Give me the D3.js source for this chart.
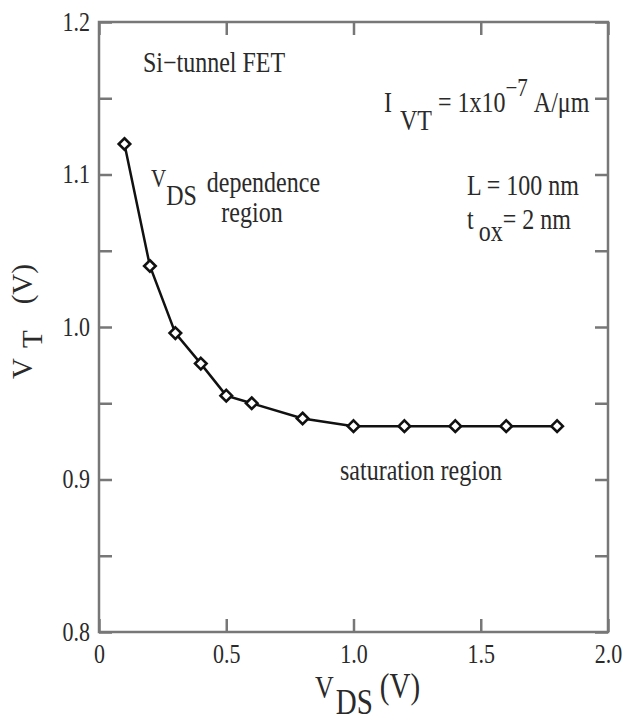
<!DOCTYPE html>
<html>
<head>
<meta charset="utf-8">
<script src="https://cdn.jsdelivr.net/npm/d3@7"></script>
<style>
    body { margin: 0; background: #fff; }
</style>
</head>
<body>
<div class="chart-container"></div>
<script>
const vds = [0.1, 0.2, 0.3, 0.4, 0.5, 0.6, 0.8, 1.0, 1.2, 1.4, 1.6, 1.8];
const vt = [1.12, 1.04, 0.996, 0.976, 0.955, 0.95, 0.94, 0.935, 0.935, 0.935, 0.935, 0.935];
const xTicks = [0, 0.5, 1.0, 1.5, 2.0];
const yMajorTicks = [0.8, 0.9, 1.0, 1.1, 1.2];
const yMinorTicks = [0.85, 0.95, 1.05, 1.15];

const width = 623, height = 722;
const margin = { top: 22, right: 15, bottom: 90, left: 99 };
const w = width - margin.left - margin.right;
const h = height - margin.top - margin.bottom;
const frameColor = "#777";
const serif = "Liberation Serif, Times New Roman, serif";
const textColor = "#2a2a2a";
const stretch = 1.2; // the original figure's lettering is taller than it is wide

const svg = d3.select(".chart-container")
    .append("svg")
    .attr("width", width)
    .attr("height", height)
    .attr("font-family", serif);

const g = svg.append("g")
    .attr("transform", `translate(${margin.left}, ${margin.top})`);

const xScale = d3.scaleLinear().domain([0, 2]).range([0, w]);
const yScale = d3.scaleLinear().domain([0.8, 1.2]).range([h, 0]);

const fmt = d => d === 0 ? "0" : d.toFixed(1);

// axes, ticks pointing inward
const xAxis = d3.axisBottom(xScale).tickValues(xTicks).tickSize(-13).tickSizeOuter(0).tickPadding(10).tickFormat(fmt);
const xTop = d3.axisTop(xScale).tickValues(xTicks).tickSize(-13).tickSizeOuter(0).tickFormat("");
const yAxis = d3.axisLeft(yScale).tickValues(yMajorTicks.concat(yMinorTicks)).tickSize(-13).tickSizeOuter(0).tickPadding(9)
    .tickFormat(d => yMajorTicks.includes(d) ? d.toFixed(1) : "");
const yRight = d3.axisRight(yScale).tickValues(yMajorTicks.concat(yMinorTicks)).tickSize(-13).tickSizeOuter(0).tickFormat("");

const axes = [
    g.append("g").attr("transform", `translate(0, ${h})`).call(xAxis),
    g.append("g").call(xTop),
    g.append("g").call(yAxis),
    g.append("g").attr("transform", `translate(${w}, 0)`).call(yRight)
];
axes.forEach(a => {
    a.attr("font-family", serif).attr("font-size", 22);
    a.select(".domain").remove();
    a.selectAll(".tick line").attr("stroke", frameColor).attr("stroke-width", 2.5);
    a.selectAll(".tick text").attr("fill", textColor).attr("transform", `scale(1, ${stretch})`);
});

g.append("rect")
    .attr("width", w)
    .attr("height", h)
    .attr("fill", "none")
    .attr("stroke", frameColor)
    .attr("stroke-width", 2.5);

// data line
const data = vds.map((x, i) => ({ x, y: vt[i] }));
const line = d3.line().x(d => xScale(d.x)).y(d => yScale(d.y));

g.append("path")
    .datum(data)
    .attr("d", line)
    .attr("fill", "none")
    .attr("stroke", "#111")
    .attr("stroke-width", 2.5);

g.selectAll(".pt")
    .data(data)
    .enter()
    .append("path")
    .attr("class", "pt")
    .attr("d", d3.symbol().type(d3.symbolDiamond2).size(85))
    .attr("transform", d => `translate(${xScale(d.x)}, ${yScale(d.y)})`)
    .attr("fill", "#fff")
    .attr("stroke", "#111")
    .attr("stroke-width", 2.6);

// annotations (dy values are in unstretched units)
const note = (x, y, size, anchor) => svg.append("text")
    .attr("transform", `translate(${x}, ${y}) scale(1, ${stretch})`)
    .attr("text-anchor", anchor || "start")
    .attr("fill", textColor)
    .attr("font-size", size);

note(143, 72, 24).text("Si\u2212tunnel FET");

const ivt = note(384, 112, 24);
ivt.append("tspan").text("I");
ivt.append("tspan").attr("dx", 8).attr("dy", 15).text("VT");
ivt.append("tspan").attr("dy", -15).text(" = 1x10");
ivt.append("tspan").attr("dy", -13).attr("font-size", 21).text("\u22127");
ivt.append("tspan").attr("dy", 13).attr("dx", 6).text("A/\u03bcm");

const vdsDep = note(151, 187, 24);
vdsDep.append("tspan").attr("font-size", 21).text("V");
vdsDep.append("tspan").attr("dy", 15).text("DS");
vdsDep.append("tspan").attr("dy", -11).attr("dx", 10).text("dependence");
note(252, 222, 24, "middle").text("region");

note(467, 195, 24).text("L = 100 nm");
const tox = note(467, 229, 24);
tox.append("tspan").text("t");
tox.append("tspan").attr("dx", 5).attr("dy", 10).text("ox");
tox.append("tspan").attr("dy", -10).text("= 2 nm");

note(340, 480, 24).text("saturation region");

// axis titles
const xt = note(315, 698, 26);
xt.append("tspan").text("V");
xt.append("tspan").attr("dy", 13).attr("dx", 2).attr("font-size", 29).text("DS");
xt.append("tspan").attr("dy", -13).attr("dx", 7).attr("font-size", 29).text("(V)");

const yt = svg.append("text")
    .attr("transform", "translate(32, 379) rotate(-90)")
    .attr("fill", textColor)
    .attr("font-size", 29);
yt.append("tspan").text("V");
yt.append("tspan").attr("dx", 10).attr("dy", 10).text("T");
yt.append("tspan").attr("dx", 26).attr("dy", -10).text("(V)");
</script>
</body>
</html>
